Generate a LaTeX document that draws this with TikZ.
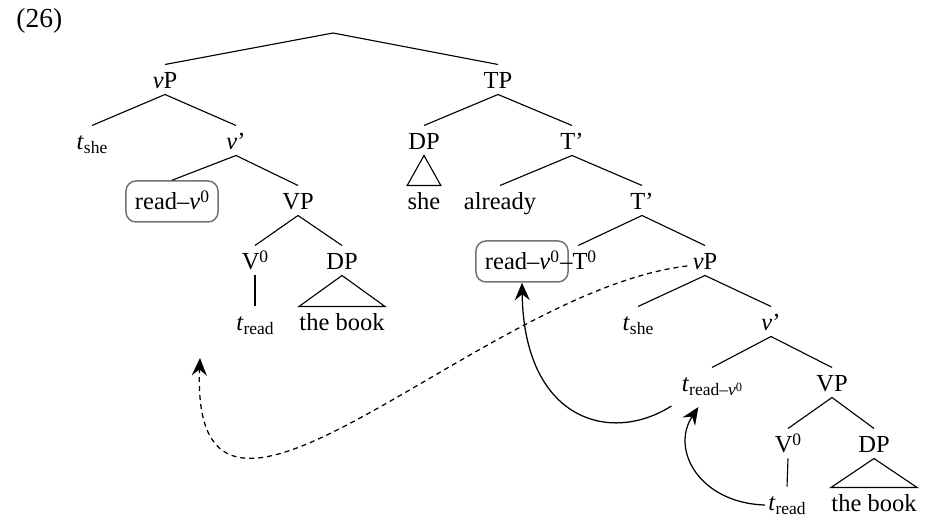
\documentclass[tikz,border=0pt]{standalone}
\usepackage{fontspec}
\setmainfont{Liberation Serif}
\usetikzlibrary{calc,arrows.meta}

% small raised / lowered pieces of text
\newcommand\supz{\raisebox{3pt}{\fontsize{7}{8}\selectfont 0}}
\newcommand\ssupz{\raisebox{1.8pt}{\fontsize{5}{6}\selectfont 0}}
\newcommand\subtxt[1]{\raisebox{-1.6pt}{\fontsize{7}{8}\selectfont #1}}
\newcommand\tr[1]{\textit{t}\subtxt{#1}}
\newcommand\vz{\textit{v}\supz}

\tikzset{
  lbl/.style={anchor=base, inner xsep=0pt, inner ysep=2pt,
              text height=7.6pt, text depth=0pt},
  headbox/.style={anchor=base, draw=black!55, line width=0.6pt,
              rounded corners=4pt, inner xsep=3.6pt, inner ysep=2pt,
              text height=9.6pt, text depth=2.8pt},
  branch/.style={line width=0.45pt},
  move/.style={line width=0.5pt, -{Stealth[length=7pt, width=6pt, inset=2.4pt]}},
}

\begin{document}
\begin{tikzpicture}[x=0.4pt, y=-0.4pt, font=\fontsize{9.8}{12}\selectfont]
\useasboundingbox (0,0) rectangle (932,517);

\node[anchor=base west, inner sep=0pt, font=\fontsize{11}{13}\selectfont] (exnum) at (16,28) {(26)};

% ---- root ----
\coordinate (root) at (333,33);

% ---- left vP ----
\node[lbl] (vPL)    at (165,89)  {\textit{v}P};
\node[lbl] (tsheL)  at (92,150)  {\tr{she}};
\node[lbl] (vbarL)  at (236,150) {\textit{v}'};
\node[headbox] (hL) at (172,210) {read–\vz};
\node[lbl] (VPL)    at (298,210) {VP};
\node[lbl] (V0L)    at (255,270) {V\supz};
\node[lbl] (DPL)    at (342,270) {DP};
\node[lbl] (treadL) at (255,331) {\tr{read}};
\node[lbl] (bookL)  at (342,331) {the book};

% ---- TP ----
\node[lbl] (TP)      at (498,89)  {TP};
\node[lbl] (DPs)     at (424,150) {DP};
\node[lbl] (Tb1)     at (572,150) {T'};
\node[lbl] (she)     at (424,210) {she};
\node[lbl] (already) at (500,210) {already};
\node[lbl] (Tb2)     at (642,210) {T'};
\node[headbox] (hR)  at (522,270) {read–\vz};
\node[lbl, anchor=base west] (T0) at ($(hR.base east)+(-9,0)$) {–T\supz};
\node[lbl] (vPR)     at (705,270) {\textit{v}P};
\node[lbl] (tsheR)   at (638,331) {\tr{she}};
\node[lbl] (vbarR)   at (771,331) {\textit{v}'};
\node[lbl] (tRv)     at (712,392) {\tr{read–\textit{v}\ssupz}};
\node[lbl] (VPR)     at (832,392) {VP};
\node[lbl] (V0R)     at (788,453) {V\supz};
\node[lbl] (DPR)     at (874,453) {DP};
\node[lbl] (treadR)  at (787,511) {\tr{read}};
\node[lbl] (bookR)   at (874,512) {the book};

% ---- branches ----
\draw[branch] (root) -- (vPL.north);
\draw[branch] (root) -- (TP.north);

\draw[branch] (vPL.south) -- (tsheL.north);
\draw[branch] (vPL.south) -- (vbarL.north);
\draw[branch] (vbarL.south) -- (hL.north);
\draw[branch] (vbarL.south) -- (VPL.north);
\draw[branch] (VPL.south) -- (V0L.north);
\draw[branch] (VPL.south) -- (DPL.north);
\draw[branch] (V0L.south) -- (treadL.north);
\draw[branch] (DPL.south) -- (bookL.north west) -- (bookL.north east) -- cycle;

\draw[branch] (TP.south) -- (DPs.north);
\draw[branch] (TP.south) -- (Tb1.north);
\draw[branch] (DPs.south) -- (she.north west) -- (she.north east) -- cycle;
\draw[branch] (Tb1.south) -- (already.north);
\draw[branch] (Tb1.south) -- (Tb2.north);
\draw[branch] (Tb2.south) -- (T0.north);
\draw[branch] (Tb2.south) -- (vPR.north);
\draw[branch] (vPR.south) -- (tsheR.north);
\draw[branch] (vPR.south) -- (vbarR.north);
\draw[branch] (vbarR.south) -- (tRv.north);
\draw[branch] (vbarR.south) -- (VPR.north);
\draw[branch] (VPR.south) -- (V0R.north);
\draw[branch] (VPR.south) -- (DPR.north);
\draw[branch] (V0R.south) -- (treadR.north);
\draw[branch] (DPR.south) -- (bookR.north west) -- (bookR.north east) -- cycle;

% ---- movement arrows ----
\coordinate (vPland) at (200,358);
\draw[move, dashed, dash pattern=on 2pt off 1.6pt]
  ($(vPR.base west)+(-5,-4)$) .. controls (480,290) and (190,610) .. (vPland);
\draw[move]
  ($(tRv.base west)+(-10,14)$) .. controls (610,445) and (524,420) .. (hR.south);
\draw[move]
  ($(treadR.base west)+(-3,-6)$) .. controls (700,503) and (670,450) .. ($(tRv.base west)+(17,15)$);
\end{tikzpicture}
\end{document}
